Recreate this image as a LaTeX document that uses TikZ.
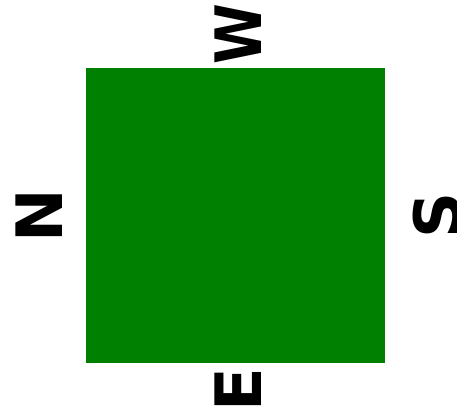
\documentclass[tikz,border=0pt]{standalone}
\usepackage{fontspec}
\setmainfont{DejaVu Sans}
\usepackage{tikz}
\definecolor{fieldgreen}{RGB}{0,128,0}
\tikzset{dirlabel/.style={inner sep=0pt,rotate=90,font=\bfseries\fontsize{64}{64}\selectfont}}

\begin{document}
\begin{tikzpicture}[x=1pt,y=-1pt]
  \useasboundingbox (0,0) rectangle (457,419);
  \fill[fieldgreen] (86,68) rectangle (385,363);
  \node[dirlabel] (west) at (238.5,34) {\scalebox{0.86}[1]{W}};
  \node[dirlabel] (north) at (39.5,215.5) {N};
  \node[dirlabel] (south) at (437,215.5) {S};
  \node[dirlabel] (east) at (238.5,390) {E};
\end{tikzpicture}
\end{document}
